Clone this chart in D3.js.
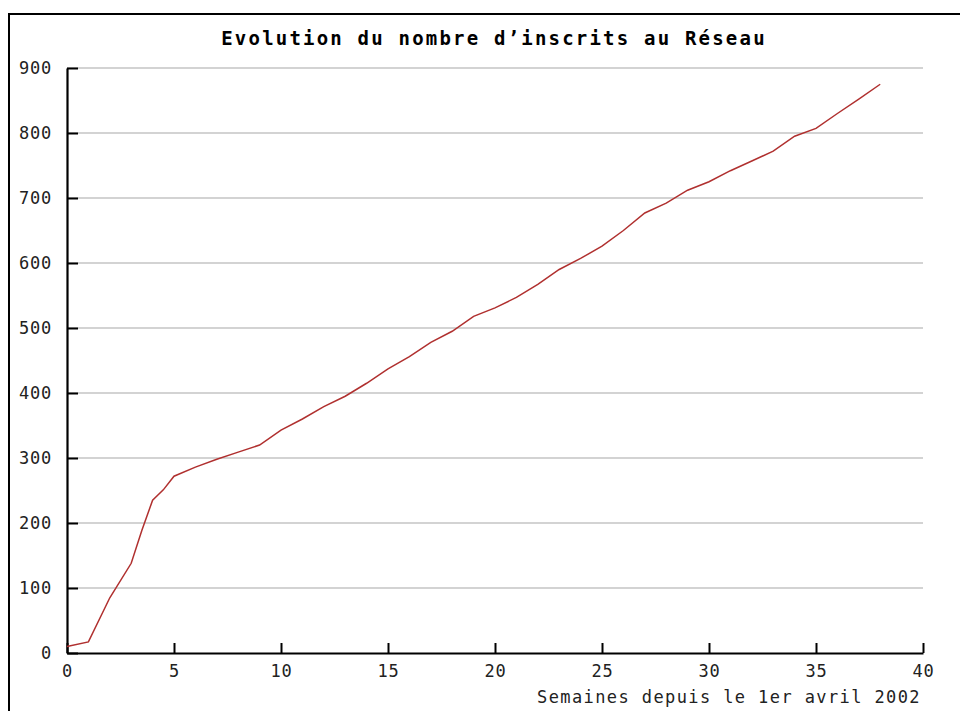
<!DOCTYPE html>
<html>
<head>
<meta charset="utf-8">
<script src="https://cdn.jsdelivr.net/npm/d3@7"></script>
<style>
  body { margin: 0; background: #fff; }
</style>
</head>
<body>
<script>
// Data: weeks since 1 April 2002 vs registrations
var weeks = [0, 1, 2, 3, 3.5, 4, 4.5, 5, 6, 7, 8, 9, 10, 11, 12, 13, 14, 15, 16, 17, 18, 19, 20, 21, 22, 23, 24, 25, 26, 27, 28, 29, 30, 31, 32, 33, 34, 35, 36, 37, 38];
var inscrits = [10, 17, 85, 138, 189, 235, 251, 272, 286, 298, 309, 320, 343, 360, 379, 395, 415, 437, 456, 478, 495, 518, 531, 547, 567, 590, 607, 626, 650, 677, 692, 712, 725, 742, 757, 772, 795, 807, 830, 852, 875];
var xTicks = [0, 5, 10, 15, 20, 25, 30, 35, 40];
var yTicks = [0, 100, 200, 300, 400, 500, 600, 700, 800, 900];

var title = "Evolution du nombre d\u2019inscrits au Réseau";
var xLabel = "Semaines depuis le 1er avril 2002";

var line_col = "#b0302f";
var grid_col = "#c4c4c4";
var font_mono = "'DejaVu Sans Mono', 'Liberation Mono', monospace";

var W = 960, H = 711;
var margin = { top: 68, right: 37, bottom: 58, left: 67 };
var width = W - margin.left - margin.right,
    height = H - margin.top - margin.bottom;

var svg = d3.select("body").append("svg")
  .attr("width", W)
  .attr("height", H)
  .style("display", "block");

// outer frame (cropped by the image edges)
svg.append("rect")
  .attr("x", 9).attr("y", 14)
  .attr("width", 1000).attr("height", 1000)
  .attr("fill", "none")
  .attr("stroke", "#000")
  .attr("stroke-width", 2);

// title
svg.append("text")
  .attr("x", 494)
  .attr("y", 45)
  .attr("text-anchor", "middle")
  .style("font-family", font_mono)
  .style("font-weight", "bold")
  .style("font-size", "19px")
  .style("letter-spacing", "2.2px")
  .text(title);

var g = svg.append("g")
  .attr("transform", "translate(" + margin.left + "," + margin.top + ")");

var x = d3.scaleLinear().domain([0, 40]).range([0, width]);
var y = d3.scaleLinear().domain([0, 900]).range([height, 0]);

// grid
g.selectAll("line.grid")
  .data(yTicks.filter(function (d) { return d > 0; }))
  .enter().append("line")
  .attr("class", "grid")
  .attr("x1", 0).attr("x2", width)
  .attr("y1", function (d) { return y(d); })
  .attr("y2", function (d) { return y(d); })
  .attr("stroke", grid_col)
  .attr("stroke-width", 1.5);

// y axis
var yAxis = g.append("g")
  .call(d3.axisLeft(y).tickValues(yTicks).tickSize(-11).tickSizeOuter(0).tickPadding(15));

// x axis
var xAxis = g.append("g")
  .attr("transform", "translate(0," + height + ")")
  .call(d3.axisBottom(x).tickValues(xTicks).tickSize(-10).tickSizeOuter(0).tickPadding(12));

[yAxis, xAxis].forEach(function (a) {
  a.select(".domain").attr("stroke", "#000").attr("stroke-width", 2.2);
  a.selectAll(".tick line").attr("stroke", "#000").attr("stroke-width", 2);
  a.selectAll(".tick text")
    .attr("fill", "#222")
    .style("font-family", font_mono)
    .style("font-size", "17px")
    .style("letter-spacing", "0.8px");
});

// x label
svg.append("text")
  .attr("x", 921)
  .attr("y", 703)
  .attr("text-anchor", "end")
  .attr("fill", "#222")
  .style("font-family", font_mono)
  .style("font-size", "17px")
  .style("letter-spacing", "1.4px")
  .text(xLabel);

// line
var line = d3.line()
  .x(function (d, i) { return x(weeks[i]); })
  .y(function (d) { return y(d); });

g.append("path")
  .datum(inscrits)
  .attr("d", line)
  .attr("fill", "none")
  .attr("stroke", line_col)
  .attr("stroke-width", 1.5);
</script>
</body>
</html>
